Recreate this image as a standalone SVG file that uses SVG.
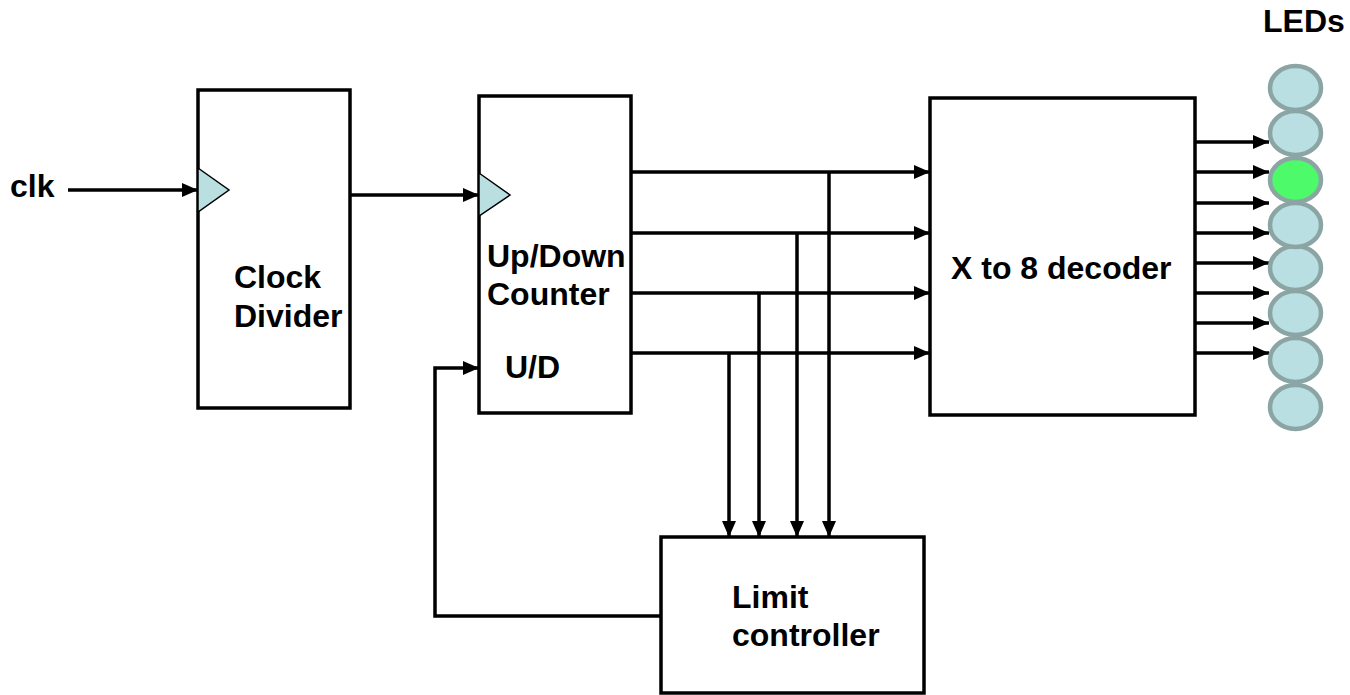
<svg xmlns="http://www.w3.org/2000/svg" width="1350" height="695" viewBox="0 0 1350 695">
<style>
.box{fill:#fff;stroke:#000;stroke-width:3.5}
.tri{fill:#b9dfe0;stroke:#000;stroke-width:1.5}
.w{fill:none;stroke:#000;stroke-width:3.5}
.wa{fill:none;stroke:#000;stroke-width:3.5;marker-end:url(#ah)}
.t{font-family:"Liberation Sans",Arial,sans-serif;font-weight:bold;font-size:32px;fill:#000}
.led{fill:#b9dfe2;stroke:#8ba4a4;stroke-width:4.5}
</style>
<defs>
<marker id="ah" markerUnits="userSpaceOnUse" viewBox="0 0 16 14" refX="16" refY="7" markerWidth="16" markerHeight="14" orient="auto">
<path d="M0,0 L16,7 L0,14 z" fill="#000"/>
</marker>
</defs>
<g id="connectors">
<path class="wa" d="M68,190 H198"/>
<path class="wa" d="M350,195 H479"/>
<path class="wa" d="M631,172 H930"/>
<path class="wa" d="M631,233 H930"/>
<path class="wa" d="M631,293 H930"/>
<path class="wa" d="M631,353 H930"/>
<path class="wa" d="M829,172 V537"/>
<path class="wa" d="M797,233 V537"/>
<path class="wa" d="M759,293 V537"/>
<path class="wa" d="M729,353 V537"/>
<path class="wa" d="M661,616 H435 V368 H479"/>
<path class="wa" d="M1195,142 H1269"/>
<path class="wa" d="M1195,172 H1269"/>
<path class="wa" d="M1195,203 H1269"/>
<path class="wa" d="M1195,233 H1269"/>
<path class="wa" d="M1195,263 H1269"/>
<path class="wa" d="M1195,293 H1269"/>
<path class="wa" d="M1195,323 H1269"/>
<path class="wa" d="M1195,353 H1269"/>
</g>
<g id="clk">
<text class="t" x="10" y="197">clk</text>
</g>
<g id="clock-divider">
<rect class="box" x="198" y="90" width="152" height="318"/>
<polygon class="tri" points="198,168 229,190 198,212"/>
<text class="t" x="234" y="288">Clock</text>
<text class="t" x="234" y="327">Divider</text>
</g>
<g id="counter">
<rect class="box" x="479" y="96" width="152" height="317"/>
<polygon class="tri" points="479,173 510,195 479,216"/>
<text class="t" x="487" y="267">Up/Down</text>
<text class="t" x="487" y="305">Counter</text>
<text class="t" x="505" y="378">U/D</text>
</g>
<g id="decoder">
<rect class="box" x="930" y="98" width="265" height="317"/>
<text class="t" x="951" y="279">X to 8 decoder</text>
</g>
<g id="limit-controller">
<rect class="box" x="661" y="537" width="263" height="156"/>
<text class="t" x="732" y="608">Limit</text>
<text class="t" x="732" y="646">controller</text>
</g>
<g id="leds">
<text class="t" x="1263" y="32">LEDs</text>
<ellipse class="led" cx="1295.5" cy="407" rx="25.5" ry="22"/>
<ellipse class="led" cx="1295.5" cy="360" rx="25.5" ry="22"/>
<ellipse class="led" cx="1295.5" cy="313" rx="25.5" ry="22"/>
<ellipse class="led" cx="1295.5" cy="268" rx="25.5" ry="22"/>
<ellipse class="led" cx="1295.5" cy="225" rx="25.5" ry="22"/>
<ellipse class="led" cx="1295.5" cy="180" rx="25.5" ry="22" style="fill:#4cfa6a"/>
<ellipse class="led" cx="1295.5" cy="133" rx="25.5" ry="22"/>
<ellipse class="led" cx="1295.5" cy="88" rx="25.5" ry="22"/>
</g>
</svg>
